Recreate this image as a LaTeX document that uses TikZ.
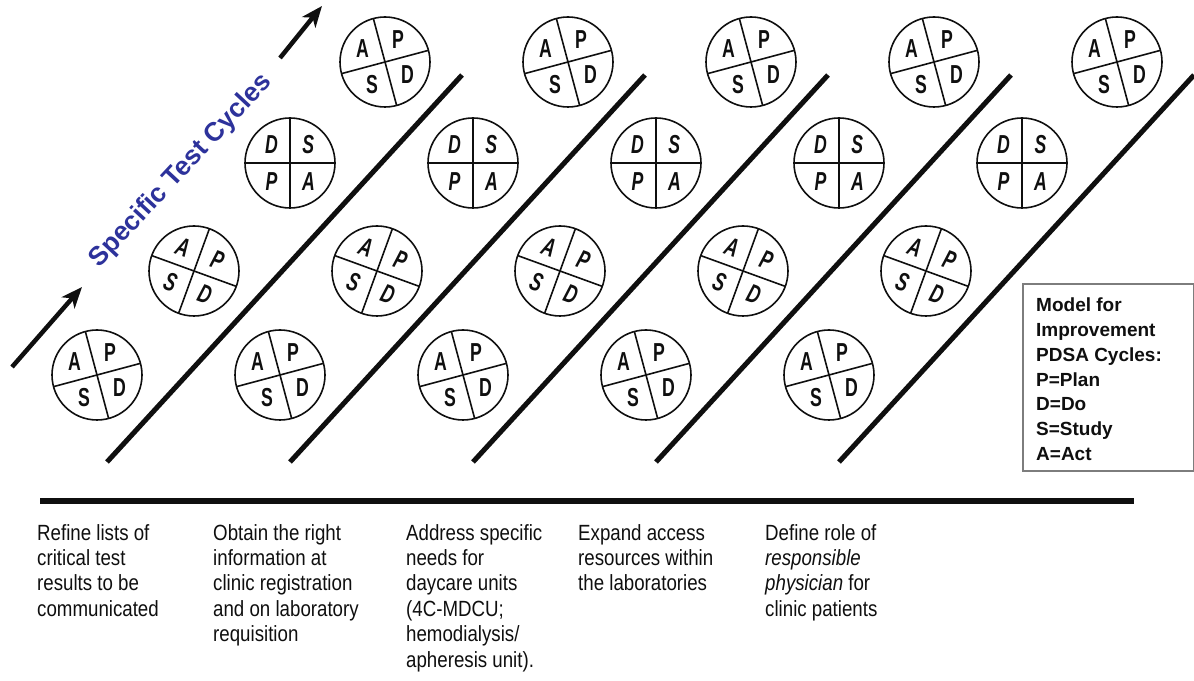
\documentclass[tikz,border=0pt]{standalone}
\usepackage{fontspec}
\usepackage{tikz}
\usetikzlibrary{arrows.meta}
\setmainfont{Liberation Sans}
\newfontfamily\condfont[FakeStretch=0.85]{Liberation Sans}
\newfontfamily\letterfont[FakeStretch=0.68]{Liberation Sans}
\definecolor{ink}{RGB}{15,15,15}
\definecolor{cycblue}{RGB}{45,50,155}
\definecolor{keygray}{RGB}{125,125,125}
\tikzset{
  arr/.style={-{Stealth[length=21pt,width=17pt,inset=6pt]},line width=4.5pt,draw=ink},
  ramp/.style={line width=5pt,draw=ink},
  base/.style={line width=5.5pt,draw=ink},
  cyc/.style={circle,draw=ink,line width=1.6pt,minimum size=90pt,inner sep=0pt},
  quad/.style={line width=1.6pt,draw=ink},
  lett/.style={inner sep=0pt,text=ink,font=\letterfont\bfseries\fontsize{26}{26}\selectfont},
  slant/.style={lett,font=\letterfont\bfseries\itshape\fontsize{26}{26}\selectfont},
  tilt/.style={slant,transform shape},
  cyclab/.style={text=cycblue,font=\bfseries\fontsize{26.5}{26.5}\selectfont},
  task/.style={anchor=north west,align=left,inner sep=0pt,text=ink,font=\condfont\fontsize{22}{25.4}\selectfont},
  keybox/.style={draw=keygray,line width=1.5pt,minimum width=171pt,minimum height=187pt,anchor=south west},
  keytxt/.style={anchor=north west,align=left,inner sep=0pt,text=ink,font=\bfseries\fontsize{19}{24.7}\selectfont}
}
\newcommand{\pdsa}[8]{%
  \begin{scope}[shift={(#2)},rotate=#3]
    \node[cyc] (#1) at (0,0) {};
    \draw[quad] (-45,0) -- (45,0) (0,-45) -- (0,45);
    \node[#4] (#1tl) at (135:26) {#5};
    \node[#4] (#1tr) at (45:26) {#6};
    \node[#4] (#1bl) at (225:26) {#7};
    \node[#4] (#1br) at (315:26) {#8};
  \end{scope}}

\begin{document}
\begin{tikzpicture}[x=1pt,y=1pt]
  \useasboundingbox (0,0) rectangle (1194,680);
  \foreach \k in {0,...,4}{
    \draw[ramp] (107+183*\k,218) -- (462+183*\k,605);
    \pdsa{a\k}{97+183*\k,305}{15}{lett}{A}{P}{S}{D}
    \pdsa{b\k}{194+183*\k,409}{-20}{tilt}{A}{P}{S}{D}
    \pdsa{c\k}{290+183*\k,517}{0}{slant}{D}{S}{P}{A}
    \pdsa{d\k}{385+183*\k,618}{15}{lett}{A}{P}{S}{D}
  }
  \coordinate (lowtail) at (12,313);
  \coordinate (lowtip) at (82,393);
  \coordinate (uptail) at (280,622);
  \coordinate (uptip) at (322,674);
  \draw[arr] (lowtail) -- (lowtip);
  \draw[arr] (uptail) -- (uptip);
  \node[cyclab,rotate=47] (title) at (181,509) {Specific Test Cycles};
  \draw[base] (40,179) -- (1134,179);
  \node[task] (task1) at (37,156) {Refine lists of\\critical test\\results to be\\communicated};
  \node[task] (task2) at (213,156) {Obtain the right\\information at\\clinic registration\\and on laboratory\\requisition};
  \node[task] (task3) at (406,156) {Address specific\\needs for\\daycare units\\(4C-MDCU;\\hemodialysis/\\apheresis unit).};
  \node[task] (task4) at (578,156) {Expand access\\resources within\\the laboratories};
  \node[task] (task5) at (765,156) {Define role of\\\textit{responsible}\\\textit{physician} for\\clinic patients};
  \node[keybox] (key) at (1022,208) {};
  \node[keytxt] (keytxt) at (1036,382) {Model for\\Improvement\\PDSA Cycles:\\P=Plan\\D=Do\\S=Study\\A=Act};
\end{tikzpicture}
\end{document}
